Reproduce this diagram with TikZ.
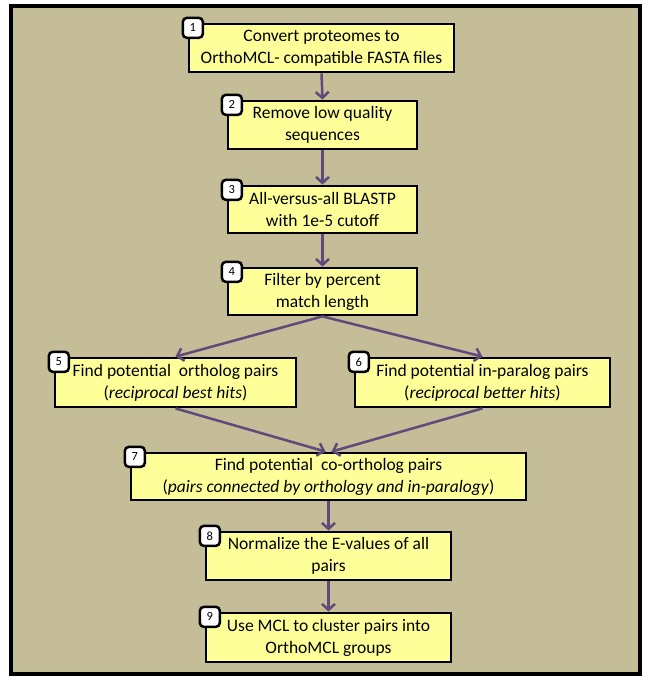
\documentclass[tikz,border=0pt]{standalone}
\usepackage{fontspec}
\setmainfont{Carlito}
\usetikzlibrary{arrows.meta}
\definecolor{bgtan}{HTML}{C4BD97}
\definecolor{boxyel}{HTML}{FFFF99}
\definecolor{arrpurple}{HTML}{604A7B}
\begin{document}
\begin{tikzpicture}[x=1pt,y=-1pt,
  stepbox/.style={draw=black, line width=2.8pt, fill=boxyel, inner sep=0pt, align=center,
    font=\fontsize{17.5}{22}\selectfont},
  badge/.style={draw=black, line width=2.5pt, fill=white, rounded corners=4pt,
    minimum size=20pt, inner sep=0pt, font=\fontsize{12.5}{12.5}\selectfont, anchor=north west},
  flow/.style={draw=arrpurple, line width=2.5pt, -{Straight Barb[length=6pt,width=13pt]}}]
\useasboundingbox (0,0) rectangle (650,680);
\fill[white] (0,0) rectangle (650,680);
\draw[fill=bgtan, line width=4pt] (11,6) rectangle (640,674);

\node[stepbox, minimum width=265pt, minimum height=48pt] (b1) at (321.5,48)
  {Convert proteomes to\\OrthoMCL- compatible FASTA files};
\node[stepbox, minimum width=189pt, minimum height=48pt] (b2) at (322.5,125)
  {Remove low quality\\sequences};
\node[stepbox, minimum width=189pt, minimum height=47pt] (b3) at (322.5,209.5)
  {All-versus-all BLASTP\\with 1e-5 cutoff};
\node[stepbox, minimum width=189pt, minimum height=47pt] (b4) at (322.5,291.5)
  {Filter by percent\\match length};
\node[stepbox, minimum width=241pt, minimum height=49pt] (b5) at (175.5,382.5)
  {Find potential\hspace{4pt} ortholog pairs\\(\textit{reciprocal best hits})};
\node[stepbox, minimum width=255pt, minimum height=49pt] (b6) at (482.5,382.5)
  {Find potential in-paralog pairs\\(\textit{reciprocal better hits})};
\node[stepbox, minimum width=395pt, minimum height=47pt] (b7) at (328.5,476.5)
  {Find potential\hspace{4pt} co-ortholog pairs\\(\textit{pairs connected by orthology and in-paralogy})};
\node[stepbox, minimum width=245pt, minimum height=48pt] (b8) at (328.5,556)
  {Normalize the E-values of all\\pairs};
\node[stepbox, minimum width=245pt, minimum height=49pt] (b9) at (328.5,637.5)
  {Use MCL to cluster pairs into\\OrthoMCL groups};

\foreach \k in {1,...,9}{
  \node[badge] (n\k) at ([xshift=-6pt,yshift=6pt]b\k.north west) {\k};
}

\draw[flow] (b1.south) -- (b2.north);
\draw[flow] (b2.south) -- (b3.north);
\draw[flow] (b3.south) -- (b4.north);
\draw[flow] (b4.south) -- (b5.north);
\draw[flow] (b4.south) -- (b6.north);
\draw[flow] (b5.south) -- ([xshift=-3pt]b7.north);
\draw[flow] (b6.south) -- ([xshift=3pt]b7.north);
\draw[flow] (b7.south) -- (b8.north);
\draw[flow] (b8.south) -- (b9.north);
\end{tikzpicture}
\end{document}
